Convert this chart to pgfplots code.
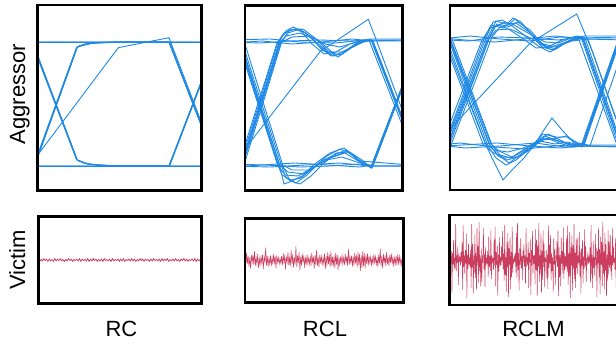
\documentclass[border=0pt]{standalone}
\usepackage{pgfplots}
\pgfplotsset{compat=1.18}
\usepackage{pgfplotstable}
\usepackage{fontspec}
\setmainfont{Liberation Sans}
\definecolor{eyeblue}{RGB}{30,136,229}
\definecolor{vicred}{RGB}{204,62,95}
\pgfplotsset{
  panel/.style={scale only axis, anchor=south west, axis on top,
    axis line style={line width=2.6pt, black}, ticks=none, clip=true},
  eye/.style={eyeblue, line width=0.9pt, mark=none},
  vic/.style={vicred, line width=0.5pt, mark=none},
}
\pgfplotstableread[row sep=\\]{y\\
0.02\\-0.03\\0.01\\-0.02\\0.03\\-0.01\\0.02\\-0.03\\0.02\\-0.02\\0.01\\-0.03\\0.03\\-0.02\\0.02\\-0.01\\0.03\\-0.02\\0.01\\-0.03\\
0.01\\-0.02\\0.03\\-0.01\\0.02\\-0.03\\0.01\\-0.01\\0.02\\-0.02\\0.03\\-0.03\\0.02\\-0.01\\0.01\\-0.02\\0.03\\-0.03\\0.02\\-0.02\\
0.03\\-0.01\\0.02\\-0.03\\0.01\\-0.02\\0.02\\-0.03\\0.03\\-0.01\\0.01\\-0.02\\0.02\\-0.03\\0.03\\-0.02\\0.01\\-0.01\\0.02\\-0.03\\
0.02\\-0.02\\0.03\\-0.03\\0.01\\-0.01\\0.02\\-0.02\\0.03\\-0.02\\0.02\\-0.03\\0.01\\-0.02\\0.03\\-0.01\\0.02\\-0.03\\0.02\\-0.01\\
0.01\\-0.03\\0.02\\-0.02\\0.03\\-0.01\\0.01\\-0.02\\0.02\\-0.03\\0.03\\-0.02\\0.02\\-0.01\\0.03\\-0.03\\0.01\\-0.02\\0.02\\-0.02\\
0.03\\-0.02\\0.01\\-0.03\\0.02\\-0.01\\0.03\\-0.02\\0.02\\-0.03\\0.01\\-0.01\\0.02\\-0.02\\0.03\\-0.03\\0.02\\-0.02\\0.01\\-0.02\\
}\rcdata
\pgfplotstableread[row sep=\\]{y\\
0.05\\-0.12\\0.18\\-0.08\\0.10\\-0.15\\0.07\\-0.20\\0.12\\-0.05\\0.14\\-0.10\\0.22\\-0.13\\0.06\\-0.09\\0.16\\-0.18\\0.04\\-0.11\\
0.09\\-0.06\\0.13\\-0.21\\0.08\\-0.04\\0.30\\-0.12\\0.10\\-0.16\\0.05\\-0.08\\0.11\\-0.14\\0.07\\-0.10\\0.15\\-0.06\\0.09\\-0.19\\
0.12\\-0.05\\0.06\\-0.09\\0.04\\-0.07\\0.10\\-0.12\\0.17\\-0.08\\0.13\\-0.22\\0.09\\-0.05\\0.19\\-0.11\\0.06\\-0.14\\0.24\\-0.09\\
0.14\\-0.17\\0.08\\-0.10\\0.33\\-0.15\\0.11\\-0.07\\0.20\\-0.24\\0.09\\-0.12\\0.16\\-0.06\\0.12\\-0.18\\0.07\\-0.10\\0.14\\-0.08\\
0.05\\-0.09\\0.11\\-0.13\\0.18\\-0.07\\0.09\\-0.20\\0.12\\-0.11\\0.25\\-0.14\\0.08\\-0.16\\0.13\\-0.05\\0.10\\-0.12\\0.06\\-0.08\\
0.16\\-0.21\\0.10\\-0.13\\0.19\\-0.09\\0.14\\-0.17\\0.22\\-0.12\\0.08\\-0.15\\0.12\\-0.19\\0.17\\-0.10\\0.13\\-0.23\\0.09\\-0.14\\
0.07\\-0.05\\0.12\\-0.09\\0.06\\-0.11\\0.15\\-0.07\\0.10\\-0.13\\0.27\\-0.10\\0.08\\-0.06\\0.11\\-0.15\\0.09\\-0.12\\0.18\\-0.08\\
0.13\\-0.16\\0.20\\-0.11\\0.15\\-0.25\\0.12\\-0.18\\0.21\\-0.14\\0.17\\-0.20\\0.13\\-0.09\\0.16\\-0.12\\0.10\\-0.07\\0.08\\-0.11\\
0.06\\-0.09\\0.14\\-0.05\\0.09\\-0.12\\0.07\\-0.16\\0.12\\-0.08\\0.28\\-0.13\\0.10\\-0.19\\0.15\\-0.07\\0.11\\-0.14\\0.20\\-0.10\\
0.08\\-0.13\\0.12\\-0.06\\0.16\\-0.10\\0.09\\-0.15\\0.06\\-0.08\\0.11\\-0.12\\0.14\\-0.07\\0.10\\-0.09\\0.05\\-0.11\\0.07\\-0.04\\
}\rcldata
\pgfplotstableread[row sep=\\]{y\\
0.12\\-0.35\\0.62\\-0.08\\0.20\\-0.72\\0.15\\-0.10\\0.45\\-0.22\\0.05\\-0.18\\0.80\\-0.25\\0.10\\-0.06\\0.30\\-0.55\\0.14\\-0.04\\
0.08\\-0.12\\0.18\\-0.05\\0.40\\-0.66\\0.78\\-0.15\\0.10\\-0.30\\0.22\\-0.08\\0.58\\-0.84\\0.12\\-0.20\\0.35\\-0.10\\0.06\\-0.16\\
0.22\\-0.62\\0.80\\-0.18\\0.36\\-0.74\\0.10\\-0.28\\0.56\\-0.40\\0.16\\-0.66\\0.72\\-0.12\\0.30\\-0.50\\0.84\\-0.24\\0.08\\-0.58\\
0.25\\-0.48\\0.10\\-0.06\\0.70\\-0.20\\0.14\\-0.60\\0.28\\-0.12\\0.05\\-0.08\\0.20\\-0.38\\0.52\\-0.15\\0.08\\-0.24\\0.66\\-0.42\\
0.10\\-0.06\\0.04\\-0.22\\0.45\\-0.12\\0.74\\-0.58\\0.18\\-0.10\\0.32\\-0.80\\0.12\\-0.26\\0.50\\-0.14\\0.06\\-0.12\\0.30\\-0.05\\
0.64\\-0.20\\0.14\\-0.46\\0.78\\-0.34\\0.06\\-0.70\\0.40\\-0.16\\0.60\\-0.82\\0.26\\-0.10\\0.50\\-0.64\\0.18\\-0.38\\0.74\\-0.28\\
0.03\\-0.08\\0.06\\-0.04\\0.15\\-0.28\\0.60\\-0.40\\0.82\\-0.22\\0.15\\-0.68\\0.26\\-0.10\\0.48\\-0.18\\0.08\\-0.44\\0.20\\-0.06\\
0.36\\-0.14\\0.10\\-0.52\\0.70\\-0.16\\0.06\\-0.12\\0.40\\-0.62\\0.15\\-0.05\\0.46\\-0.78\\0.22\\-0.12\\0.64\\-0.30\\0.10\\-0.08\\
0.12\\-0.54\\0.68\\-0.22\\0.44\\-0.80\\0.32\\-0.14\\0.82\\-0.48\\0.10\\-0.30\\0.58\\-0.72\\0.20\\-0.44\\0.66\\-0.16\\0.36\\-0.60\\
0.05\\-0.04\\0.22\\-0.40\\0.12\\-0.64\\0.76\\-0.18\\0.34\\-0.08\\0.55\\-0.45\\0.14\\-0.24\\0.06\\-0.70\\0.48\\-0.10\\0.25\\-0.56\\
0.10\\-0.05\\0.42\\-0.16\\0.66\\-0.80\\0.28\\-0.38\\0.12\\-0.58\\0.50\\-0.08\\0.20\\-0.30\\0.72\\-0.42\\0.15\\-0.22\\0.08\\-0.14\\
0.48\\-0.26\\0.76\\-0.56\\0.14\\-0.36\\0.62\\-0.84\\0.28\\-0.12\\0.54\\-0.68\\0.34\\-0.20\\0.80\\-0.42\\0.16\\-0.62\\0.46\\-0.18\\
0.52\\-0.30\\0.10\\-0.06\\0.62\\-0.36\\0.18\\-0.74\\0.26\\-0.12\\0.44\\-0.52\\0.08\\-0.20\\0.68\\-0.15\\0.30\\-0.48\\0.06\\-0.10\\
0.18\\-0.08\\0.04\\-0.05\\0.28\\-0.50\\0.78\\-0.32\\0.12\\-0.62\\0.42\\-0.18\\0.06\\-0.36\\0.58\\-0.12\\0.26\\-0.82\\0.20\\-0.08\\
0.70\\-0.38\\0.24\\-0.76\\0.52\\-0.10\\0.40\\-0.58\\0.84\\-0.30\\0.18\\-0.64\\0.60\\-0.24\\0.36\\-0.80\\0.12\\-0.46\\0.66\\-0.32\\
0.40\\-0.16\\0.55\\-0.25\\0.10\\-0.44\\0.70\\-0.12\\0.30\\-0.06\\0.04\\-0.22\\0.48\\-0.60\\0.14\\-0.34\\0.08\\-0.50\\0.76\\-0.20\\
}\rclmdata
\begin{document}
\begin{tikzpicture}[x=1pt,y=1pt]
% ---------- Aggressor RC ----------
\begin{axis}[panel, at={(37.7pt,152.5pt)}, width=163.6pt, height=185.5pt,
  xmin=37.7, xmax=201.3, ymin=5, ymax=190.5, y dir=reverse]
\addplot[eye] coordinates {(30,42) (32,42) (77,160) (85,163.5) (100,165.3) (120,166) (169,166) (214.3,48)};
\addplot[eye] coordinates {(30,42) (32.6,42) (77.5,160.5) (87,164) (110,165.8) (169,166) (214.3,48)};
\addplot[eye] coordinates {(30,42) (31.5,42) (76.5,159.5) (84,163) (98,165.2) (118,166) (210,166)};
\addplot[eye] coordinates {(30,42) (32.3,42) (77.3,160) (90,164.5) (125,166) (210,166)};
\addplot[eye] coordinates {(34,166) (77,47) (85,44) (100,42.5) (120,42) (169,42) (214,158)};
\addplot[eye] coordinates {(34.6,166) (77.6,46.5) (88,43.5) (112,42.2) (169,42) (214,158)};
\addplot[eye] coordinates {(33.5,166) (76.5,47.5) (84,44.5) (98,42.6) (118,42) (210,42)};
\addplot[eye] coordinates {(34.3,166) (77.3,47) (92,43.2) (125,42) (210,42)};
\addplot[eye] coordinates {(30,42) (169,42) (214,158)};
\addplot[eye] coordinates {(30,42) (169.6,42) (214.6,158)};
\addplot[eye] coordinates {(30,166) (169,166) (214.3,48)};
\addplot[eye] coordinates {(30,166) (169.6,166) (214.9,48)};
\addplot[eye] coordinates {(30,42) (210,42)};
\addplot[eye] coordinates {(30,166) (210,166)};
\addplot[eye] coordinates {(30,165.3) (118.3,47.7) (169,37.7) (201.3,122) (215,158)};
\end{axis}
% ---------- Aggressor RCL ----------
\begin{axis}[panel, at={(245pt,152.3pt)}, width=157.7pt, height=185.4pt,
  xmin=245, xmax=402.7, ymin=5.3, ymax=190.7, y dir=reverse]
\addplot[eye] coordinates {(236,166) (241,165) (279.5,41) (286,31) (293,27) (301,31) (312,44) (324,54) (336,52) (350,44) (363,40) (371,40) (404,125) (415,160)};
\addplot[eye] coordinates {(238,166) (243,164) (281,42) (288,33) (297,30) (306,33) (318,45) (331,56) (342,54) (356,44) (368,41) (410,41)};
\addplot[eye] coordinates {(234,166) (239,164) (277,43) (283,35) (290,30) (300,29) (311,37) (322,50) (334,56) (346,50) (360,42) (369,40) (401,122) (413,158)};
\addplot[eye] coordinates {(240,166) (244,165) (282,41) (290,30) (303,29) (315,38) (327,50) (338,57) (351,48) (365,41) (410,40)};
\addplot[eye] coordinates {(239,166) (242,164) (280,43) (292,37) (310,36) (325,44) (340,47) (360,41) (372,41) (404,124) (416,158)};
\addplot[eye] coordinates {(237,166) (242,165) (279,44) (286,36) (300,33) (318,40) (332,52) (344,52) (358,42) (370,39) (410,39)};
\addplot[eye] coordinates {(236,166) (240,165) (278,42) (284,33) (294,29) (304,32) (316,42) (328,52) (340,55) (354,46) (366,40) (372,40) (405,125) (416,156)};
\addplot[eye] coordinates {(235,40) (240,41) (279.5,165) (284,184) (292,181) (302,176) (316,163) (330,153) (344,148) (356,158) (370,167) (372,168) (404,83) (417,48)};
\addplot[eye] coordinates {(237,40) (242,42) (281,164) (286,178) (296,183) (307,175) (320,162) (334,155) (346,150) (358,160) (369,166) (410,166)};
\addplot[eye] coordinates {(233,41) (238,42) (277,163) (282,175) (291,180) (301,178) (313,168) (327,156) (340,149) (352,154) (365,165) (371,167) (403,84) (416,49)};
\addplot[eye] coordinates {(239,40) (244,41) (283,166) (290,181) (300,184) (311,176) (323,164) (336,153) (348,152) (360,161) (410,165)};
\addplot[eye] coordinates {(238,42) (241,43) (279,163) (292,170) (310,170) (326,160) (342,157) (360,163) (373,166) (405,82) (418,47)};
\addplot[eye] coordinates {(236,41) (240,42) (278,165) (285,175) (298,176) (314,167) (330,158) (345,153) (360,162) (372,166) (410,166)};
\addplot[eye] coordinates {(234,40) (239,42) (278,164) (288,172) (304,174) (318,165) (332,157) (348,151) (362,160) (371,168) (403,84) (416,49)};
\addplot[eye] coordinates {(230,42) (260,43) (290,41) (320,40) (350,41) (372,40) (404,124) (416,158)};
\addplot[eye] coordinates {(230,40) (270,39) (300,42) (335,43) (365,40) (410,40)};
\addplot[eye] coordinates {(230,43) (262,41) (292,44) (322,42) (352,39) (373,41) (405,124) (417,158)};
\addplot[eye] coordinates {(230,164) (265,165) (300,167) (330,166) (360,164) (371,167) (403,84) (416,49)};
\addplot[eye] coordinates {(230,166) (270,167) (305,165) (340,163) (370,166) (410,166)};
\addplot[eye] coordinates {(230,167) (262,165) (295,163) (328,165) (360,167) (372,165) (404,83) (417,48)};
\addplot[eye] coordinates {(235,162) (246.7,146.7) (320,51.7) (368.3,19.3) (377,42) (403,112) (414,143)};
\end{axis}
% ---------- Aggressor RCLM ----------
\begin{axis}[panel, at={(450pt,153pt)}, width=169pt, height=184.7pt,
  xmin=450, xmax=619, ymin=5.3, ymax=190, y dir=reverse]
\addplot[eye] coordinates {(440,147) (445,145) (486,38) (493,22) (502,20) (512,26) (524,35) (538,46) (550,52) (562,45) (575,38) (582,37) (619,142)};
\addplot[eye] coordinates {(443,146) (448,145) (490,36) (497,24) (507,26) (515,19) (526,28) (540,44) (552,50) (566,42) (579,39) (625,39)};
\addplot[eye] coordinates {(438,145) (442,144) (482,40) (490,28) (499,25) (510,30) (522,38) (536,48) (548,47) (562,40) (577,36) (585,38) (621,143)};
\addplot[eye] coordinates {(446,147) (451,145) (492,37) (500,27) (508,27) (518,22) (530,30) (543,45) (556,49) (570,40) (580,38) (625,37)};
\addplot[eye] coordinates {(441,146) (446,144) (487,41) (496,30) (510,29) (526,36) (540,43) (555,47) (572,41) (588,39) (624,141)};
\addplot[eye] coordinates {(444,145) (449,146) (489,39) (494,27) (505,22) (514,25) (528,33) (545,42) (558,43) (574,37) (586,36) (625,36)};
\addplot[eye] coordinates {(439,145) (444,145) (484,39) (491,25) (503,28) (513,18) (521,22) (533,36) (548,48) (560,44) (576,39) (579,40) (617,145)};
\addplot[eye] coordinates {(442,145) (447,146) (488,37) (496,21) (506,24) (516,23) (529,32) (542,47) (554,50) (568,41) (583,37) (620,143)};
\addplot[eye] coordinates {(441,37) (446,38) (486,145) (493,160) (503,180) (512,170) (524,158) (538,140) (548,134) (560,140) (572,146) (583,146) (620,38)};
\addplot[eye] coordinates {(444,37) (449,39) (490,145) (498,156) (507,160) (518,157) (530,148) (543,134) (556,137) (567,137) (580,146) (625,147)};
\addplot[eye] coordinates {(438,39) (443,38) (483,144) (492,152) (505,158) (517,157) (530,150) (544,138) (556,140) (570,145) (581,146) (618,40)};
\addplot[eye] coordinates {(447,38) (452,39) (492,145) (500,155) (511,158) (522,152) (534,145) (547,138) (559,143) (572,147) (586,146) (625,146)};
\addplot[eye] coordinates {(440,38) (445,40) (485,143) (494,150) (508,152) (523,148) (540,141) (555,144) (568,142) (582,147) (620,38)};
\addplot[eye] coordinates {(443,39) (448,38) (488,146) (496,158) (506,165) (516,160) (528,150) (541,140) (553,139) (566,136) (578,143) (588,145) (625,145)};
\addplot[eye] coordinates {(446,40) (450,38) (491,144) (499,151) (512,157) (523,150) (536,142) (552,118) (562,130) (574,143) (590,146) (625,44)};
\addplot[eye] coordinates {(445,38) (450,39) (489,144) (497,154) (509,163) (520,155) (532,146) (545,136) (558,141) (571,144) (584,145) (621,38)};
\addplot[eye] coordinates {(430,40) (470,36) (500,39) (530,41) (560,37) (583,38) (620,145)};
\addplot[eye] coordinates {(430,37) (465,40) (495,42) (525,39) (555,36) (585,39) (625,40)};
\addplot[eye] coordinates {(430,39) (468,41) (498,37) (528,38) (558,40) (581,37) (618,144)};
\addplot[eye] coordinates {(430,146) (460,143) (495,147) (525,149) (555,146) (584,144) (620,39)};
\addplot[eye] coordinates {(430,144) (465,148) (500,146) (535,143) (565,147) (590,146) (625,147)};
\addplot[eye] coordinates {(430,147) (462,145) (497,143) (530,146) (560,148) (582,146) (619,38)};
\addplot[eye] coordinates {(440,140) (451,128) (530,43.3) (576.7,14) (593,53) (612,108) (622,135)};
\end{axis}
% ---------- Victim ----------
\begin{axis}[panel, at={(38.3pt,39.7pt)}, width=163.4pt, height=86.6pt,
  xmin=0, xmax=119, ymin=-1, ymax=1]
\addplot[vic, line width=0.8pt] table[x expr=\coordindex, y=y] {\rcdata};
\end{axis}
\begin{axis}[panel, at={(245pt,40.7pt)}, width=158.3pt, height=84pt,
  xmin=0, xmax=199, ymin=-1, ymax=1]
\addplot[vic] table[x expr=\coordindex, y=y] {\rcldata};
\end{axis}
\begin{axis}[panel, at={(449.3pt,38pt)}, width=170pt, height=90pt,
  xmin=0, xmax=319, ymin=-1, ymax=1]
\addplot[vic] table[x expr=\coordindex, y=y] {\rclmdata};
\end{axis}
% ---------- labels ----------
\begin{scope}[every node/.style={font=\fontsize{22}{26}\selectfont, inner sep=0pt}]
\node[rotate=90, anchor=base] at (25pt,248.8pt) {Aggressor};
\node[rotate=90, anchor=base] at (25pt,83.3pt) {Victim};
\node[anchor=base] at (121.5pt,6.3pt) {RC};
\node[anchor=base] at (325pt,6.3pt) {RCL};
\node[anchor=base] at (533.5pt,6.3pt) {RCLM};
\end{scope}
\pgfresetboundingbox
\path[use as bounding box] (0pt,0pt) rectangle (616pt,343pt);
\end{tikzpicture}
\end{document}
